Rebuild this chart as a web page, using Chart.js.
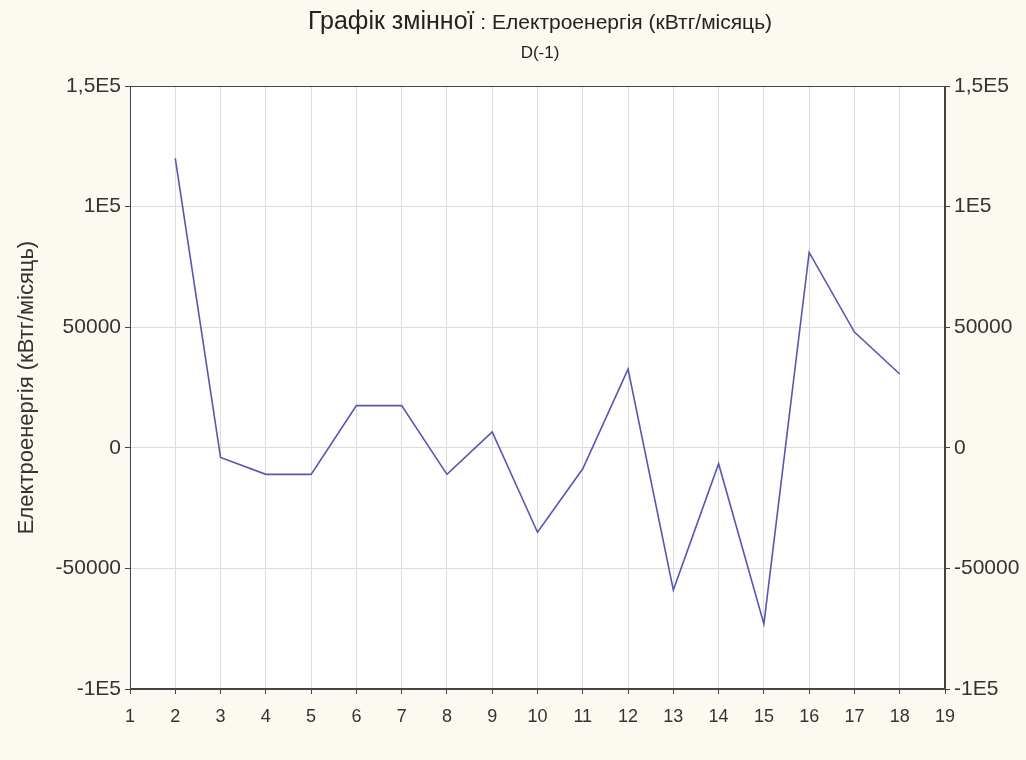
<!DOCTYPE html>
<html>
<head>
<meta charset="utf-8">
<script src="https://cdn.jsdelivr.net/npm/chart.js@4"></script>
<style>
  html, body { margin: 0; padding: 0; background: #fcfaf0; }
  #wrap { position: relative; width: 1026px; height: 760px; }
  #title { position: absolute; left: 0; top: 6px; width: 1080px; text-align: center;
           font-family: "Liberation Sans", Arial, sans-serif; color: #222; line-height: 29px; }
  #title .big { font-size: 25px; }
  #title .small { font-size: 21px; }
  #title .sub { font-size: 17px; }
</style>
</head>
<body>
<div id="wrap">
  <div id="title"><span class="big">Графік змінної</span><span class="small"> : Електроенергія (кВтг/місяць)</span><br><span class="sub">D(-1)</span></div>
  <canvas id="myChart" width="1026" height="760"></canvas>
</div>
<script>
// values
const periods = [2, 3, 4, 5, 6, 7, 8, 9, 10, 11, 12, 13, 14, 15, 16, 17, 18];
const energyDiff = [120000, -4000, -11000, -11000, 17500, 17500, -11000, 6600, -35000, -8700, 32600, -59000, -6600, -73000, 81000, 48000, 30600];
const yTickLabels = { '150000': '1,5E5', '100000': '1E5', '50000': '50000', '0': '0', '-50000': '-50000', '-100000': '-1E5' };

function renderChart() {
  const points = [];
  for (let i = 0; i < periods.length; i += 1) {
    points.push({ x: periods[i], y: energyDiff[i] });
  }

  const fontFam = '"Liberation Sans", Arial, sans-serif';

  const frame = {
    id: 'frame',
    beforeDraw(chart) {
      const a = chart.chartArea;
      const ctx = chart.ctx;
      ctx.save();
      ctx.fillStyle = '#ffffff';
      ctx.fillRect(a.left, a.top, a.right - a.left, a.bottom - a.top);
      ctx.restore();
    },
    afterDraw(chart) {
      const a = chart.chartArea;
      const ctx = chart.ctx;
      ctx.save();
      ctx.strokeStyle = '#444';
      ctx.lineWidth = 1;
      ctx.strokeRect(a.left + 0.5, a.top + 0.5, a.right - a.left - 1, a.bottom - a.top - 1);
      ctx.restore();
    },
  };

  const yTicks = {
    stepSize: 50000,
    color: '#333',
    font: { family: fontFam, size: 21 },
    padding: 4,
    callback: (v) => yTickLabels[String(v)],
  };

  const config = {
    type: 'line',
    data: {
      datasets: [{
        label: 'D(-1)',
        data: points,
        borderColor: '#5757b3',
        borderWidth: 1.6,
        pointRadius: 0,
        tension: 0,
        fill: false,
      }],
    },
    options: {
      responsive: false,
      animation: false,
      layout: { padding: { top: 86, left: 14, right: 0, bottom: 0 } },
      plugins: { legend: { display: false }, tooltip: { enabled: false } },
      scales: {
        x: {
          type: 'linear',
          min: 1,
          max: 19,
          ticks: { stepSize: 1, color: '#333', font: { family: fontFam, size: 18 }, padding: 12 },
          grid: { color: '#dcdcdc', tickColor: '#444', tickLength: 5 },
          border: { color: '#444' },
          afterFit: (s) => { s.height = 71; },
        },
        y: {
          position: 'left',
          min: -100000,
          max: 150000,
          ticks: yTicks,
          grid: { color: '#dcdcdc', tickColor: '#444', tickLength: 5 },
          border: { color: '#444' },
          title: {
            display: true,
            text: 'Електроенергія (кВтг/місяць)',
            color: '#333',
            font: { family: fontFam, size: 22 },
            padding: 0,
          },
          afterFit: (s) => { s.width = 116; },
        },
        y2: {
          position: 'right',
          min: -100000,
          max: 150000,
          ticks: yTicks,
          grid: { drawOnChartArea: false, tickColor: '#444', tickLength: 5 },
          border: { color: '#444' },
          afterFit: (s) => { s.width = 81; },
        },
      },
    },
    plugins: [frame],
  };

  const myChart = new Chart(document.getElementById('myChart'), config);
}

renderChart();
</script>
</body>
</html>
